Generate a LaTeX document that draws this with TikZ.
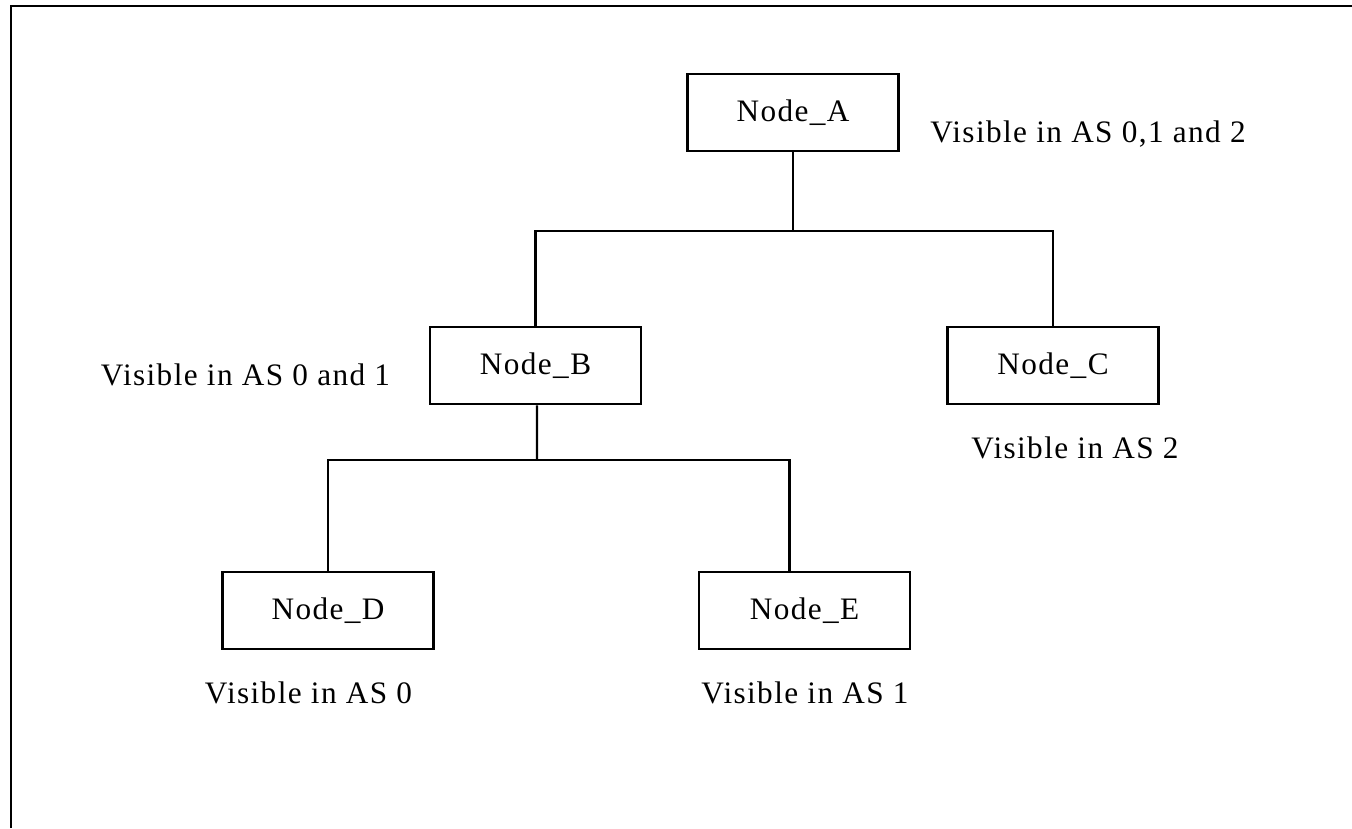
\documentclass[tikz,border=0pt]{standalone}
\usepackage{fontspec}
\setmainfont{Liberation Serif}[LetterSpace=4.5]
\usetikzlibrary{positioning}

\begin{document}
\begin{tikzpicture}[
  x=0.4pt, y=-0.4pt,
  frame/.style={line width=1.1pt},
  asnode/.style={rectangle, draw, line width=1.1pt, minimum width=84.4pt,
                 minimum height=30.8pt, inner sep=0pt, font=\fontsize{12.5}{14}\selectfont},
  vis/.style={anchor=base, inner sep=0pt, font=\fontsize{12.5}{14}\selectfont},
  conn/.style={line width=0.85pt}
]
  \useasboundingbox (0,0) rectangle (1352,828);

  % Frame (top and left edges only)
  \draw[frame] (11,828) -- (11,6) -- (1352,6);

  % Nodes
  \node[asnode] (A) at (793,112.5) {Node\_A};
  \node[asnode] (B) at (535.5,365.5) {Node\_B};
  \node[asnode] (C) at (1053,365.5) {Node\_C};
  \node[asnode] (D) at (328,610.5) {Node\_D};
  \node[asnode] (E) at (804.5,610.5) {Node\_E};

  % Bus junctions
  \coordinate (busA) at (793,231);
  \coordinate (busB) at (537,460);

  % A -> B, C
  \draw[conn] (A.south) -- (busA);
  \draw[conn] (B.north) |- (busA) -| (C.north);

  % B -> D, E
  \draw[conn] ([xshift=0.6pt]B.south) -- (busB);
  \draw[conn] (D.north) |- (busB) -| ([xshift=-6pt]E.north);

  % Visibility labels
  \node[vis] (vA) at (1088,142) {Visible in AS 0,1 and 2};
  \node[vis] (vB) at (245.5,385) {Visible in AS 0 and 1};
  \node[vis] (vC) at (1075,458) {Visible in AS 2};
  \node[vis] (vD) at (308.5,703) {Visible in AS 0};
  \node[vis] (vE) at (805,703) {Visible in AS 1};
\end{tikzpicture}
\end{document}
